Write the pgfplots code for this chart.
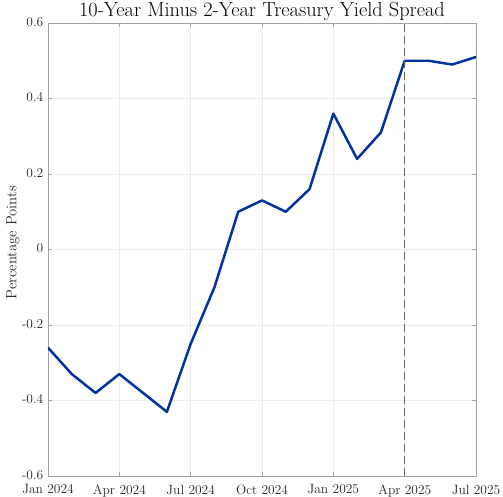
\documentclass[border=0pt]{standalone}
\usepackage{fontspec}
\usepackage{pgfplots}
\pgfplotsset{compat=1.18}
\definecolor{spreadblue}{RGB}{0,51,160}
\definecolor{axgray}{RGB}{160,160,160}
\definecolor{txtgray}{RGB}{38,38,38}

\pgfplotstableread{
m spread
0 -0.26
1 -0.33
2 -0.38
3 -0.33
4 -0.38
5 -0.43
6 -0.25
7 -0.10
8 0.10
9 0.13
10 0.10
11 0.16
12 0.36
13 0.24
14 0.31
15 0.50
16 0.50
17 0.49
18 0.51
}\spreadtable

\begin{document}
\begin{tikzpicture}
\begin{axis}[
    scale only axis,
    width=428bp, height=453bp,
    xmin=0, xmax=18, ymin=-0.6, ymax=0.6,
    xtick={0,3,...,18},
    xticklabels={Jan 2024,Apr 2024,Jul 2024,Oct 2024,Jan 2025,Apr 2025,Jul 2025},
    ytick={-0.6,-0.4,...,0.6},
    yticklabels={-0.6,-0.4,-0.2,0,0.2,0.4,0.6},
    tick align=inside,
    major tick length=4.5bp,
    axis line style={axgray, line width=0.6pt},
    tick style={axgray, line width=0.5pt},
    grid=major,
    major grid style={gray!15, line width=0.4pt},
    ticklabel style={font=\fontsize{13.5}{15}\selectfont, text=txtgray,
        inner xsep=4.5bp, inner ysep=1bp},
    xticklabel style={yshift=-7.5bp},
    yticklabel style={yshift=1bp},
    title={10-Year Minus 2-Year Treasury Yield Spread},
    title style={font=\fontsize{20.4}{22}\selectfont, at={(0.5,1)}, anchor=base, inner sep=0pt, yshift=0.5bp},
    ylabel={Percentage Points},
    ylabel style={font=\fontsize{14.8}{17}\selectfont, text=txtgray,
        at={(axis description cs:-0.082,0.515)}, anchor=center},
]
\addplot[spreadblue, line width=2.5pt, line join=round] table[x=m, y=spread] {\spreadtable};
\draw[black!60, line width=1.4pt, dash pattern=on 8bp off 4bp]
    (axis cs:15,-0.6) -- (axis cs:15,0.6);
\coordinate (bl) at (rel axis cs:0,0);
\coordinate (tr) at (rel axis cs:1,1);
\end{axis}
\pgfresetboundingbox
\path ([xshift=-48bp,yshift=-20bp]bl) rectangle ([xshift=27bp,yshift=23bp]tr);
\end{tikzpicture}
\end{document}
